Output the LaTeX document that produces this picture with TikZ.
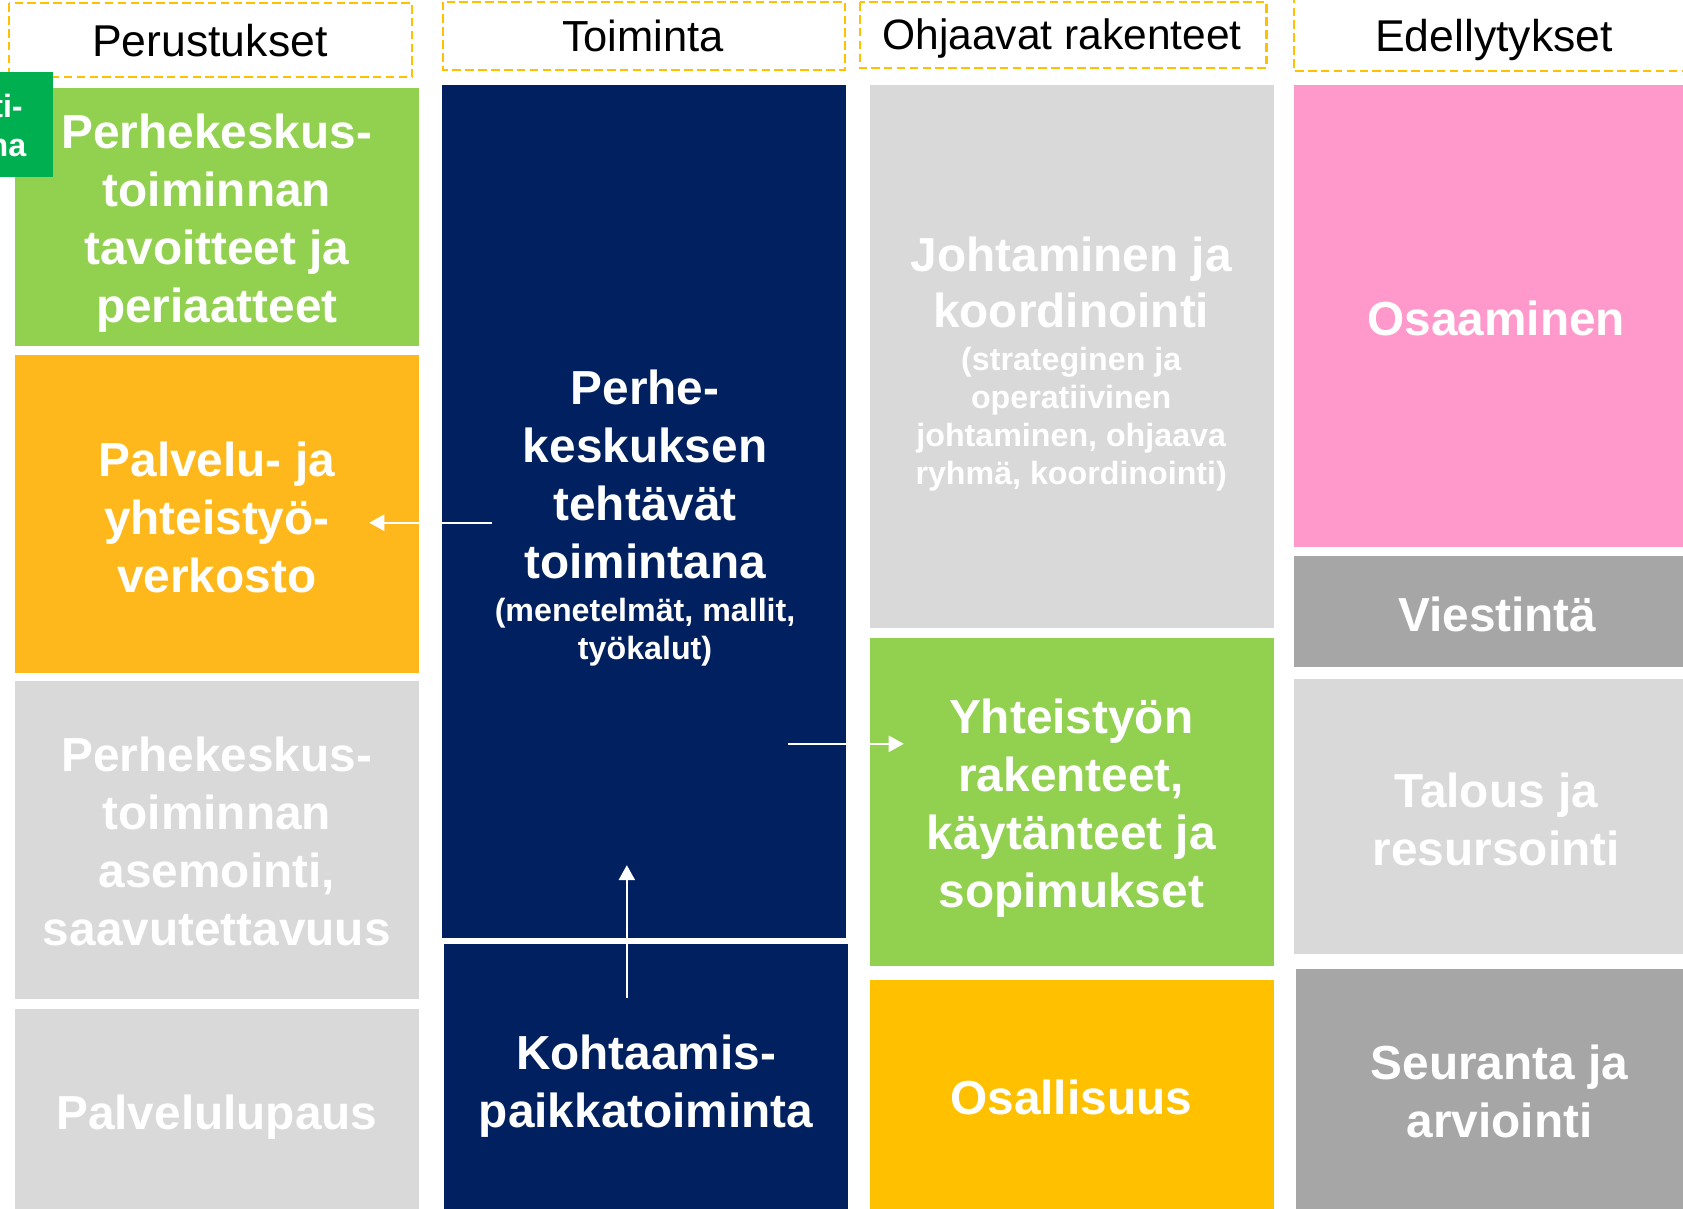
\documentclass[tikz,border=0pt]{standalone}
\usepackage{fontspec}
\setmainfont{Liberation Sans}
\usetikzlibrary{arrows.meta}

\definecolor{leafgreen}{HTML}{92D050}
\definecolor{tabgreen}{HTML}{00B050}
\definecolor{amber}{HTML}{FFB81C}
\definecolor{gold}{HTML}{FFC000}
\definecolor{navy}{HTML}{00205F}
\definecolor{pale}{HTML}{D9D9D9}
\definecolor{midgray}{HTML}{A6A6A6}
\definecolor{rose}{HTML}{FF99CC}

\newcommand{\subsize}{\fontsize{30}{35.5}\selectfont}

\begin{document}
\begin{tikzpicture}[x = 1pt, y = -1pt,
  headbox/.style = {draw = gold, line width = 2pt, dash pattern = on 8pt off 4pt},
  headtext/.style = {anchor = base, font = \fontsize{41.5}{48}\selectfont},
  bigtext/.style = {align = center, text = white, inner sep = 0pt,
    font = \fontsize{44.5}{54}\selectfont\bfseries},
  whitearrow/.style = {white, line width = 2pt,
    -{Triangle[length = 14pt, width = 15pt]}}]

  \path[use as bounding box, fill = white] (0, 0) rectangle (1568, 1125.5);

  % Perustukset
  \draw[headbox] (8.4, 3) rectangle (384, 72);
  \fill[leafgreen] (14, 82) rectangle (390, 322);
  \fill[amber] (14, 331) rectangle (390, 627);
  \fill[pale] (14, 634) rectangle (390, 931);
  \fill[pale] (14, 940) rectangle (390, 1135);
  \fill[tabgreen] (-5, 67) rectangle (49, 165);

  % Toiminta
  \draw[headbox] (413, 1.5) rectangle (787, 65);
  \fill[navy] (412, 79) rectangle (788, 874);
  \fill[navy] (414, 879.5) rectangle (790, 1135);

  % Ohjaavat rakenteet
  \draw[headbox] (801, 2) rectangle (1180, 63.5);
  \fill[pale] (811, 79) rectangle (1187, 585);
  \fill[leafgreen] (811, 594) rectangle (1187, 900);
  \fill[gold] (811, 913) rectangle (1187, 1135);

  % Edellytykset
  \draw[headbox] (1205.6, -5) rectangle (1590, 66);
  \fill[rose] (1206, 79) rectangle (1590, 510);
  \fill[midgray] (1206, 518) rectangle (1590, 621);
  \fill[pale] (1206, 633) rectangle (1590, 888.5);
  \fill[midgray] (1207, 903) rectangle (1590, 1135);

  \node[headtext] (basis) at (195.5, 52.8) {Perustukset};
  \node[headtext, font = \fontsize{40.5}{48}\selectfont] (action) at (599, 47.8) {Toiminta};
  \node[headtext, font = \fontsize{39.6}{48}\selectfont] (steer) at (989.5, 45.8) {Ohjaavat rakenteet};
  \node[headtext] (prereq) at (1392, 48) {Edellytykset};

  \node[bigtext, font = \fontsize{30}{37}\selectfont\bfseries] (tab) at (7, 117) {ti-\\na};

  \node[bigtext] (goal) at (202, 208) {Perhekeskus-\\toiminnan\\tavoitteet ja\\periaatteet};
  \node[bigtext] (network) at (202, 482) {Palvelu- ja\\yhteistyö-\\verkosto};
  \node[bigtext] (position) at (202, 784) {Perhekeskus-\\toiminnan\\asemointi,\\saavutettavuus};
  \node[bigtext] (promise) at (202, 1041) {Palvelulupaus};

  \node[bigtext] (tasks) at (601, 483) {Perhe-\\keskuksen\\tehtävät\\toimintana\\[-14pt]\subsize
    (menetelmät, mallit,\\[-18.5pt]\subsize työkalut)};
  \node[bigtext] (meet) at (602, 1012) {Kohtaamis-\\paikkatoiminta};

  \node[bigtext] (lead) at (998, 339) {Johtaminen ja\\[-2pt]koordinointi\\[-14pt]\subsize
    (strateginen ja\\[-18.5pt]\subsize operatiivinen\\[-18.5pt]\subsize
    johtaminen, ohjaava\\[-18.5pt]\subsize ryhmä, koordinointi)};
  \node[bigtext] (coop) at (998, 753) {Yhteistyön\\rakenteet,\\käytänteet ja\\sopimukset};
  \node[bigtext] (share) at (998, 1022) {Osallisuus};

  \node[bigtext] (skill) at (1394, 297) {Osaaminen};
  \node[bigtext] (comm) at (1395, 572) {Viestintä};
  \node[bigtext] (money) at (1394, 763) {Talous ja\\resursointi};
  \node[bigtext] (review) at (1397, 1017) {Seuranta ja\\arviointi};

  \coordinate (tasksW) at (458, 487);
  \coordinate (networkE) at (344, 487);
  \coordinate (tasksE) at (734, 693);
  \coordinate (coopW) at (842, 693);
  \coordinate (meetN) at (584, 929.6);
  \coordinate (tasksS) at (584, 806);

  \draw[whitearrow] (tasksW) -- (networkE);
  \draw[whitearrow] (tasksE) -- (coopW);
  \draw[whitearrow] (meetN) -- (tasksS);
\end{tikzpicture}
\end{document}
